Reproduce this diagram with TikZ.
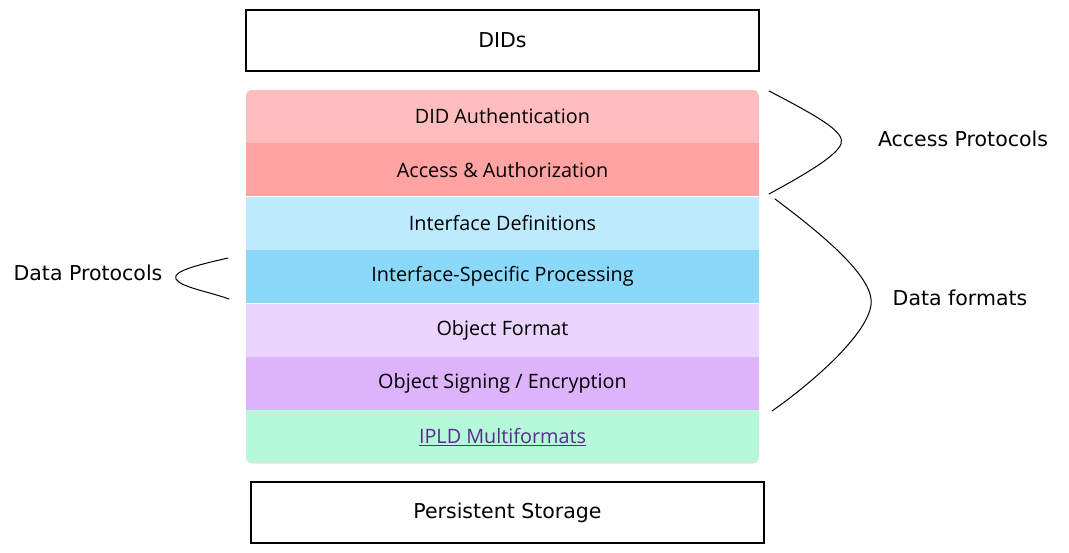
\documentclass[tikz,border=0pt]{standalone}
\usepackage{fontspec}
\setmainfont{Open Sans}
\newfontfamily\handfont{DejaVu Sans}
\usetikzlibrary{positioning, shadows}

\definecolor{authpink}{HTML}{FFBDBD}
\definecolor{accessred}{HTML}{FFA3A3}
\definecolor{ifaceblue}{HTML}{BDEBFD}
\definecolor{procblue}{HTML}{8AD9FB}
\definecolor{objlilac}{HTML}{EAD4FE}
\definecolor{signpurple}{HTML}{DDB3FC}
\definecolor{iplmint}{HTML}{B5F8DA}
\definecolor{linkpurple}{HTML}{5A2D8C}

\begin{document}
\begin{tikzpicture}[
    x=1pt, y=-1pt,
    layer/.style={rectangle, minimum width=513pt, minimum height=53pt, inner sep=0pt, font=\fontsize{19.8}{22}\selectfont, text=black},
    sketchbox/.style={rectangle, draw, line width=1.2pt, minimum width=513pt, minimum height=61pt, inner sep=0pt, font=\handfont\fontsize{20.5}{24}\selectfont},
    hand/.style={font=\handfont\fontsize{20.5}{24}\selectfont, inner sep=0pt},
    brace/.style={line width=1pt, line cap=round}
]
    \useasboundingbox (0,0) rectangle (1069,553);

    % Sketched outer boxes
    \node[sketchbox] (dids) at (502.5,40.5) {DIDs};
    \node[sketchbox] (storage) at (507.5,512.5) {Persistent Storage};

    % Layer stack
    \path[fill=white, rounded corners=6pt, drop shadow={opacity=0.25, shadow xshift=0pt, shadow yshift=-1.5pt}]
        (246,90) rectangle (759,462);
    \begin{scope}
        \clip[rounded corners=6pt] (246,90) rectangle (759,462);
        \node[layer, fill=authpink] (auth) at (502.5,116.5) {DID Authentication};
        \node[layer, fill=accessred, below=0pt of auth] (access) {Access \& Authorization};
        \node[layer, fill=ifaceblue, below=0pt of access] (iface) {Interface Definitions};
        \node[layer, fill=procblue, below=0pt of iface] (proc) {Interface-Specific Processing};
        \node[layer, fill=objlilac, below=0pt of proc] (objfmt) {Object Format};
        \node[layer, fill=signpurple, below=0pt of objfmt] (signing) {Object Signing / Encryption};
        \node[layer, fill=iplmint, below=0pt of signing, text=linkpurple] (ipld) {\underline{IPLD Multiformats}};
    \end{scope}

    % Side labels
    \node[hand] (accessproto) at (963,139) {Access Protocols};
    \node[hand] (dataformats) at (960,298) {Data formats};
    \node[hand] (dataproto) at (88,273) {Data Protocols};

    % Brace ends
    \coordinate (ap-top) at (769,91);
    \coordinate (ap-bot) at (769,194);
    \coordinate (df-top) at (775,199);
    \coordinate (df-bot) at (772,411);
    \coordinate (dp-top) at (228,258);
    \coordinate (dp-bot) at (229,299);

    % Braces
    \draw[brace] (ap-top) .. controls (825,120) and (845,133) .. (841,144)
        .. controls (836,157) and (800,177) .. (ap-bot);
    \draw[brace] (df-top) .. controls (830,240) and (875,280) .. (871,305)
        .. controls (867,335) and (812,383) .. (df-bot);
    \draw[brace] (dp-top) .. controls (198,265) and (172,271) .. (176,279)
        .. controls (180,287) and (210,292) .. (dp-bot);
\end{tikzpicture}
\end{document}
